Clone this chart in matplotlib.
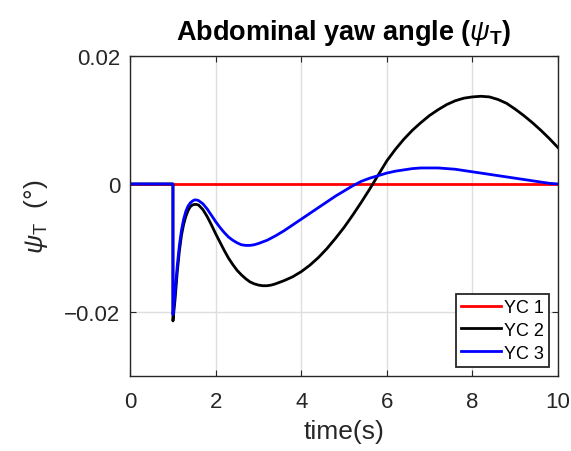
import matplotlib
matplotlib.use("Agg")
import matplotlib.pyplot as plt

plt.rcParams["font.family"] = ["Liberation Sans", "DejaVu Sans"]
plt.rcParams["mathtext.fontset"] = "custom"
plt.rcParams["mathtext.rm"] = "Liberation Sans"
plt.rcParams["mathtext.it"] = "Liberation Sans:italic"
plt.rcParams["mathtext.bf"] = "Liberation Sans:bold"

# YC 1: flat at zero
t_yc1 = [0, 10]
yc1 = [0, 0]

# YC 2 (black)
t_yc2 = [0, 1.0, 1.0, 1.05, 1.1, 1.15, 1.2, 1.25, 1.3, 1.35, 1.4, 1.45, 1.5,
         1.55, 1.6, 1.7, 1.8, 1.9, 2.0, 2.1, 2.2, 2.3, 2.4, 2.5, 2.6, 2.7,
         2.8, 2.9, 3.0, 3.1, 3.2, 3.3, 3.4, 3.6, 3.8, 4.0, 4.2, 4.4, 4.6,
         4.8, 5.0, 5.2, 5.4, 5.6, 5.8, 6.0, 6.2, 6.4, 6.6, 6.8, 7.0, 7.2,
         7.4, 7.6, 7.8, 8.0, 8.2, 8.4, 8.6, 8.8, 9.0, 9.2, 9.4, 9.6, 9.8, 10.0]
yc2 = [0, 0, -0.0214, -0.0180, -0.0138, -0.0105, -0.0080, -0.0063, -0.0051,
       -0.0042, -0.0036, -0.0033, -0.0032, -0.0032, -0.0033, -0.0040, -0.0051,
       -0.0064, -0.0078, -0.0091, -0.0104, -0.0116, -0.0126, -0.0135, -0.0142,
       -0.0148, -0.0153, -0.0156, -0.0158, -0.0159, -0.0159, -0.0158, -0.0156,
       -0.0151, -0.0145, -0.0137, -0.0127, -0.0115, -0.0101, -0.0085, -0.0068,
       -0.0049, -0.0029, -0.0008, 0.0014, 0.0036, 0.0054, 0.0070, 0.0084,
       0.0096, 0.0107, 0.0116, 0.0124, 0.0130, 0.0134, 0.0136, 0.0137, 0.0136,
       0.0132, 0.0126, 0.0117, 0.0107, 0.0096, 0.0084, 0.0071, 0.0057]

# YC 3 (blue)
t_yc3 = [0, 1.0, 1.0, 1.05, 1.1, 1.15, 1.2, 1.25, 1.3, 1.35, 1.4, 1.45, 1.5,
         1.55, 1.6, 1.7, 1.8, 1.9, 2.0, 2.1, 2.2, 2.3, 2.4, 2.5, 2.6, 2.7,
         2.8, 2.9, 3.0, 3.2, 3.4, 3.6, 3.8, 4.0, 4.2, 4.4, 4.6, 4.8, 5.0,
         5.2, 5.4, 5.6, 5.8, 6.0, 6.2, 6.4, 6.6, 6.8, 7.0, 7.2, 7.4, 7.6,
         7.8, 8.0, 8.2, 8.4, 8.6, 8.8, 9.0, 9.2, 9.4, 9.6, 9.8, 10.0]
yc3 = [0, 0, -0.0204, -0.0168, -0.0128, -0.0096, -0.0072, -0.0055, -0.0043,
       -0.0035, -0.0030, -0.0027, -0.0025, -0.0025, -0.0026, -0.0031, -0.0039,
       -0.0049, -0.0059, -0.0068, -0.0076, -0.0083, -0.0088, -0.0092, -0.0095,
       -0.0096, -0.0096, -0.0095, -0.0093, -0.0088, -0.0081, -0.0073, -0.0064,
       -0.0055, -0.0046, -0.0037, -0.0028, -0.0019, -0.0011, -0.0003, 0.0004,
       0.0009, 0.0013, 0.0017, 0.0020, 0.0022, 0.0024, 0.0025, 0.0025, 0.0025,
       0.0024, 0.0023, 0.0021, 0.0019, 0.0017, 0.0015, 0.0013, 0.0011, 0.0009,
       0.0007, 0.0005, 0.0003, 0.0001, 0.0]

x_ticks = [0, 2, 4, 6, 8, 10]
y_ticks = [-0.02, 0, 0.02]
y_ticklabels = ["\u22120.02", "0", "0.02"]

dark = (0.15, 0.15, 0.15)

fig = plt.figure(figsize=(5.71, 4.52), dpi=100)
ax = fig.add_axes([0.228, 0.166, 0.749, 0.708])

ax.plot(t_yc1, yc1, color="red", lw=2, label="YC 1")
ax.plot(t_yc2, yc2, color="black", lw=2, label="YC 2")
ax.plot(t_yc3, yc3, color="blue", lw=2, label="YC 3")

ax.set_xlim(0, 10)
ax.set_ylim(-0.03, 0.02)
ax.set_xticks(x_ticks)
ax.set_yticks(y_ticks)
ax.set_yticklabels(y_ticklabels)
ax.grid(True, color=(0.87, 0.87, 0.87), lw=1)
ax.set_axisbelow(True)
ax.tick_params(direction="in", top=True, right=True, labelsize=16,
               colors=dark, length=4)
ax.tick_params(axis="x", pad=11)
ax.tick_params(axis="y", pad=7)
for s in ax.spines.values():
    s.set_color(dark)
    s.set_linewidth(1)

ax.set_title(r"Abdominal yaw angle ($\psi_{\mathbf{T}}$)", fontsize=19.5,
             fontweight="bold", pad=12)
ax.set_xlabel("time(s)", fontsize=19, color=dark, labelpad=5)
ax.set_ylabel(r"$\psi_{\mathrm{T}}$  (°)", fontsize=19, color=dark, labelpad=10)

leg = ax.legend(loc="lower right", fontsize=13, fancybox=False, framealpha=1,
                edgecolor=dark, handlelength=2.2, handletextpad=0.15,
                borderpad=0.3, labelspacing=0.32, borderaxespad=0.5)
leg.get_frame().set_linewidth(1.3)

fig.savefig("out.png", dpi=100)
